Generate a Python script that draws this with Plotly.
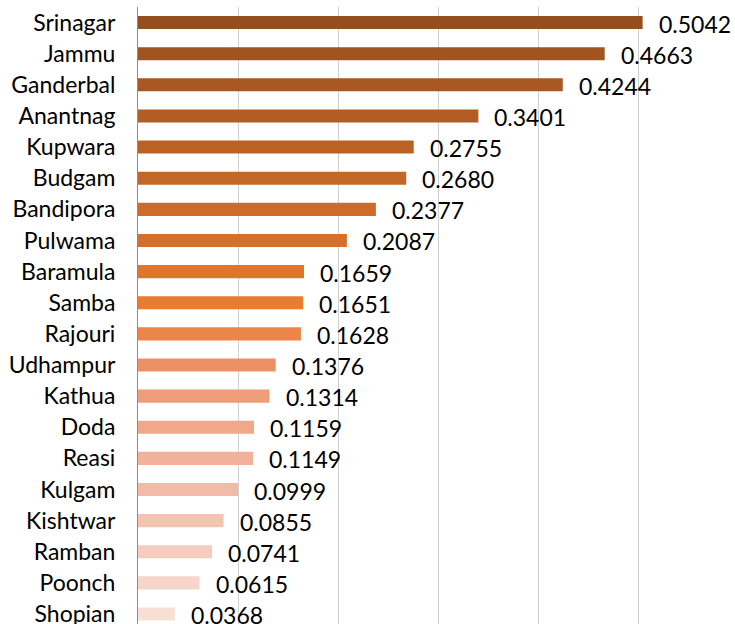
import plotly.graph_objects as go

districts = ["Srinagar", "Jammu", "Ganderbal", "Anantnag", "Kupwara", "Budgam", "Bandipora",
             "Pulwama", "Baramula", "Samba", "Rajouri", "Udhampur", "Kathua", "Doda", "Reasi",
             "Kulgam", "Kishtwar", "Ramban", "Poonch", "Shopian"]
values = [0.5042, 0.4663, 0.4244, 0.3401, 0.2755, 0.2680, 0.2377, 0.2087, 0.1659, 0.1651,
          0.1628, 0.1376, 0.1314, 0.1159, 0.1149, 0.0999, 0.0855, 0.0741, 0.0615, 0.0368]
colors = ["#954F1F", "#9F5421", "#A85822", "#B25D24", "#BA6226", "#C36728", "#CC6B2A",
          "#D4702C", "#DE762F", "#E77D32", "#EB8548", "#EE9066", "#EF9C78", "#F0A78A",
          "#F2B29A", "#F3BBA7", "#F4C4B3", "#F5CDBF", "#F6D6CB", "#F8DFD6"]

FONT = "Lato, 'Open Sans', sans-serif"

fig = go.Figure()
fig.add_trace(go.Bar(
    x=values, y=districts, orientation="h",
    marker=dict(color=colors, line=dict(width=0)),
    width=0.42, hoverinfo="x+y", cliponaxis=False,
))

for d, v in zip(districts, values):
    fig.add_annotation(x=v, y=d, text=f"{v:.4f}", showarrow=False,
                       xanchor="left", yanchor="middle", xshift=14, yshift=-1,
                       font=dict(family=FONT, size=23, color="#000000"))

fig.update_layout(
    width=735, height=624,
    margin=dict(l=138, r=0, t=7, b=0, autoexpand=False),
    paper_bgcolor="white", plot_bgcolor="white",
    showlegend=False,
    bargap=0.58,
)
fig.update_xaxes(
    range=[0, 0.5965], dtick=0.1, showgrid=True, gridcolor="#D0D0D0", gridwidth=1.3,
    showticklabels=False, zeroline=False, showline=False, ticks="", automargin=False,
)
fig.update_yaxes(
    type="category", categoryorder="array", categoryarray=districts,
    range=[19.32, -0.5], showgrid=False, showline=True, linecolor="#8C8C8C", linewidth=1,
    ticks="", ticklabelstandoff=17, automargin=False,
    tickfont=dict(family=FONT, size=23, color="#000000"),
)

fig.write_html("out.html", config={"displayModeBar": False},
               post_script="document.body.style.margin='0px';document.body.style.overflow='hidden';")
